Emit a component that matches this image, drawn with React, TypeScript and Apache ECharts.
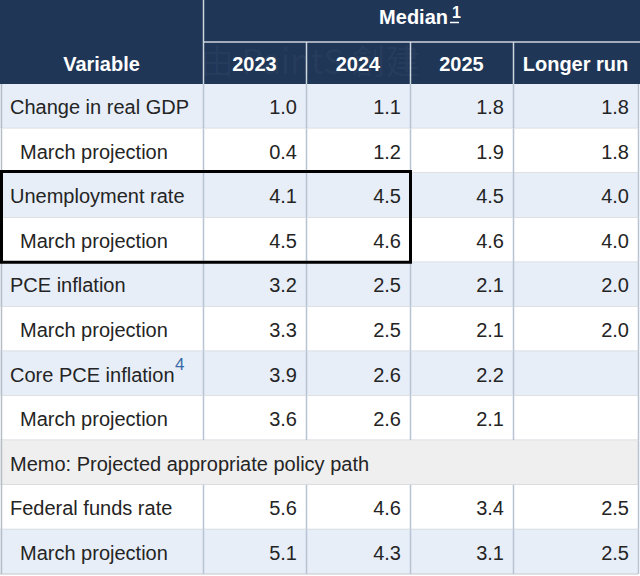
import React, { useEffect, useRef } from "react";
import * as echarts from "echarts";

// ---------- data ----------
const columnHeaders = ["Variable", "2023", "2024", "2025", "Longer run"];
const groupHeader = "Median";
const groupFootnote = "1";
const rowLabels = [
  "Change in real GDP",
  "March projection",
  "Unemployment rate",
  "March projection",
  "PCE inflation",
  "March projection",
  "Core PCE inflation",
  "March projection",
  "Memo: Projected appropriate policy path",
  "Federal funds rate",
  "March projection",
];
const rowIsSub = [false, true, false, true, false, true, false, true, false, false, true];
const labelFootnotes = ["", "", "", "", "", "", "4", "", "", "", ""];
const memoRowIndex = 8;
const values2023 = [1.0, 0.4, 4.1, 4.5, 3.2, 3.3, 3.9, 3.6, null, 5.6, 5.1];
const values2024 = [1.1, 1.2, 4.5, 4.6, 2.5, 2.5, 2.6, 2.6, null, 4.6, 4.3];
const values2025 = [1.8, 1.9, 4.5, 4.6, 2.1, 2.1, 2.2, 2.1, null, 3.4, 3.1];
const valuesLongerRun = [1.8, 1.8, 4.0, 4.0, 2.0, 2.0, null, null, null, 2.5, 2.5];
const highlightedRows = [2, 3];
const highlightedColumnCount = 3;
const watermarkText = "由 PaintS 創建";

// ---------- layout / style ----------
const W = 640;
const H = 576;
const HEADER_H = 84;
const COL_EDGES = [0, 203, 306, 410, 513, 638];
const NAVY = "#1f3657";
const BLUE = "#e7eef8";
const WHITE = "#ffffff";
const GRAY = "#efefef";
const ROW_FILLS = [BLUE, WHITE, BLUE, WHITE, BLUE, WHITE, BLUE, WHITE, GRAY, WHITE, BLUE];
const H_LINE = "#d3d6db";
const V_LINE = "#b7c3d2";
const TEXT = "#242424";
const FONT = '"Liberation Sans", Arial, Helvetica, sans-serif';
const FS = 20;

const valueColumns = [values2023, values2024, values2025, valuesLongerRun];

function measure(text: string, font: string): number {
  const c = document.createElement("canvas");
  const ctx = c.getContext("2d");
  if (!ctx) return text.length * 10;
  ctx.font = font;
  return ctx.measureText(text).width;
}

export default function App() {
  const ref = useRef<HTMLDivElement | null>(null);

  useEffect(() => {
    if (!ref.current) return;
    const chart = echarts.init(ref.current, undefined, { renderer: "svg" });

    const renderRow = (params: any, api: any) => {
      const r = api.value(1) as number;
      const h = api.size([0, 1])[1];
      const cy = api.coord([0, r])[1];
      const top = cy - h / 2;
      const bottom = cy + h / 2;
      const xs = COL_EDGES.map((e) => api.coord([e, r])[0]);
      const children: any[] = [];
      children.push({
        type: "rect",
        shape: { x: xs[0], y: top, width: xs[5] - xs[0], height: h },
        style: { fill: ROW_FILLS[r] },
      });
      children.push({
        type: "line",
        shape: { x1: xs[0], y1: bottom, x2: xs[5], y2: bottom },
        style: { stroke: H_LINE, lineWidth: 1.5 },
      });
      if (r !== memoRowIndex) {
        for (let c = 1; c <= 4; c++) {
          children.push({
            type: "line",
            shape: { x1: xs[c] + 0.5, y1: top, x2: xs[c] + 0.5, y2: bottom },
            style: { stroke: V_LINE, lineWidth: 1.5 },
          });
        }
      }
      children.push({
        type: "line",
        shape: { x1: xs[0] + 1.5, y1: top, x2: xs[0] + 1.5, y2: bottom },
        style: { stroke: "#b4bcc6", lineWidth: 1.5 },
      });
      children.push({
        type: "line",
        shape: { x1: xs[5] + 0.5, y1: top, x2: xs[5] + 0.5, y2: bottom },
        style: { stroke: V_LINE, lineWidth: 1.5 },
      });
      const label = rowLabels[r];
      const lx = xs[0] + (rowIsSub[r] ? 20 : 10);
      const font = `${FS}px ${FONT}`;
      children.push({
        type: "text",
        x: lx,
        y: cy + 1,
        style: { text: label, fill: TEXT, font, align: "left", verticalAlign: "middle" },
      });
      const fn = labelFootnotes[r];
      if (fn) {
        const lw = measure(label, font);
        children.push({
          type: "text",
          x: lx + lw + 0.5,
          y: cy - 9,
          style: { text: fn, fill: "#3a6aa6", font: `17px ${FONT}`, align: "left", verticalAlign: "middle" },
        });
      }
      valueColumns.forEach((vals, k) => {
        const v = vals[r];
        if (v === null || v === undefined) return;
        children.push({
          type: "text",
          x: xs[k + 2] - 9,
          y: cy + 1,
          style: { text: v.toFixed(1), fill: TEXT, font, align: "right", verticalAlign: "middle" },
        });
      });
      return { type: "group", children };
    };

    const renderHighlight = (params: any, api: any) => {
      const r0 = highlightedRows[0];
      const r1 = highlightedRows[highlightedRows.length - 1];
      const h = api.size([0, 1])[1];
      const y0 = api.coord([0, r0])[1] - h / 2 - 1.5;
      const y1 = api.coord([0, r1])[1] + h / 2;
      const x0 = api.coord([COL_EDGES[0], r0])[0] + 1.5;
      const x1 = api.coord([COL_EDGES[highlightedColumnCount], r0])[0] + 0.5;
      return {
        type: "rect",
        shape: { x: x0, y: y0, width: x1 - x0, height: y1 - y0 },
        style: { fill: "none", stroke: "#000000", lineWidth: 3 },
      };
    };

    const headerFontBold = `bold ${FS}px ${FONT}`;
    const medianW = measure(groupHeader, headerFontBold);
    const supFont = `bold 16px ${FONT}`;
    const supW = measure(groupFootnote, supFont);
    const groupCenter = (COL_EDGES[1] + COL_EDGES[5]) / 2;
    const groupStart = groupCenter - (medianW + 3 + supW) / 2 - 1;
    const midY = HEADER_H / 2;

    const graphics: any[] = [
      { type: "rect", shape: { x: 0, y: 0, width: COL_EDGES[5] + 2, height: HEADER_H }, style: { fill: NAVY }, z: 0 },
      {
        type: "text",
        x: 200,
        y: 59,
        style: {
          text: watermarkText,
          font: `34px "Noto Sans CJK TC", sans-serif`,
          fill: "rgba(255,255,255,0.045)",
          align: "left",
          verticalAlign: "middle",
        },
        z: 1,
      },
      { type: "line", shape: { x1: COL_EDGES[1] + 0.5, y1: 0, x2: COL_EDGES[1] + 0.5, y2: HEADER_H }, style: { stroke: "#cfd5dd", lineWidth: 1.5 }, z: 2 },
      { type: "line", shape: { x1: COL_EDGES[1], y1: midY, x2: COL_EDGES[5] + 2, y2: midY }, style: { stroke: "#cfd5dd", lineWidth: 1.5 }, z: 2 },
      {
        type: "text",
        x: groupStart,
        y: 27,
        style: { text: groupHeader, font: headerFontBold, fill: "#ffffff", align: "left", verticalAlign: "bottom" },
        z: 3,
      },
      {
        type: "text",
        x: groupStart + medianW + 4,
        y: 20.5,
        style: { text: groupFootnote, font: supFont, fill: "#ffffff", align: "left", verticalAlign: "bottom" },
        z: 3,
      },
      {
        type: "line",
        shape: { x1: groupStart + medianW + 2, y1: 22.5, x2: groupStart + medianW + 11, y2: 22.5 },
        style: { stroke: "#ffffff", lineWidth: 1.5 },
        z: 3,
      },
    ];
    for (let c = 2; c <= 4; c++) {
      graphics.push({
        type: "line",
        shape: { x1: COL_EDGES[c] + 0.5, y1: midY, x2: COL_EDGES[c] + 0.5, y2: HEADER_H },
        style: { stroke: "#cfd5dd", lineWidth: 1.5 },
        z: 2,
      });
    }
    columnHeaders.forEach((t, c) => {
      graphics.push({
        type: "text",
        x: (COL_EDGES[c] + COL_EDGES[c + 1]) / 2,
        y: 64,
        style: { text: t, font: headerFontBold, fill: "#ffffff", align: "center", verticalAlign: "middle" },
        z: 3,
      });
    });

    chart.setOption({
      animation: false,
      backgroundColor: "#ffffff",
      grid: { left: 0, right: 0, top: HEADER_H, bottom: 2 },
      xAxis: { type: "value", min: 0, max: W, show: false },
      yAxis: { type: "category", data: rowLabels, inverse: true, show: false },
      graphic: graphics,
      series: [
        {
          type: "custom",
          renderItem: renderRow,
          data: rowLabels.map((_, i) => [0, i]),
          encode: { x: 0, y: 1 },
          silent: true,
          z: 1,
        },
        {
          type: "custom",
          renderItem: renderHighlight,
          data: [[0, highlightedRows[0]]],
          encode: { x: 0, y: 1 },
          silent: true,
          z: 5,
        },
      ],
    });

    return () => chart.dispose();
  }, []);

  return (
    <div
      ref={ref}
      style={{ position: "fixed", left: 0, top: 0, width: W, height: H, background: "#ffffff" }}
    />
  );
}
